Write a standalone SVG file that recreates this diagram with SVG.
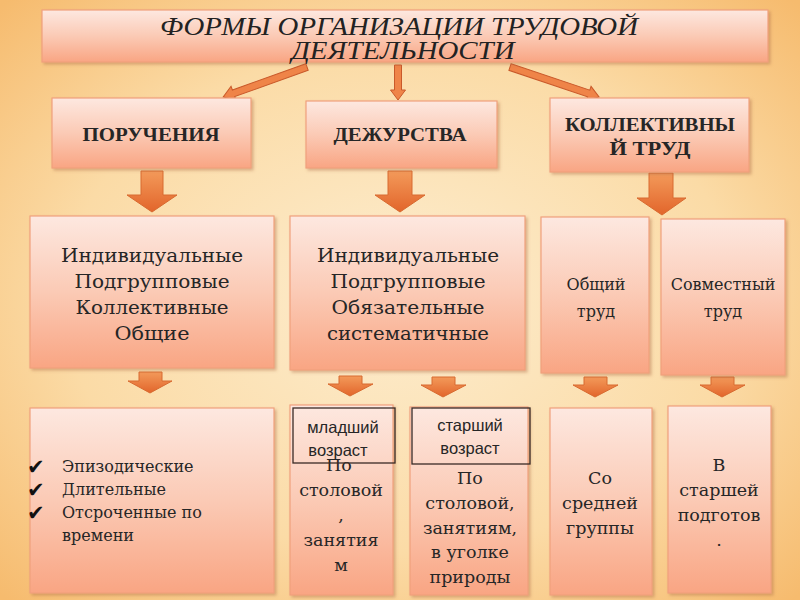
<svg xmlns="http://www.w3.org/2000/svg" width="800" height="600" viewBox="0 0 800 600">
<defs>
<radialGradient id="bg" cx="50%" cy="50%" r="70%">
<stop offset="0" stop-color="#fdedcf"/>
<stop offset="0.6" stop-color="#fbdba6"/>
<stop offset="1" stop-color="#f6bb6e"/>
</radialGradient>
<linearGradient id="box" x1="0" y1="0" x2="0" y2="1">
<stop offset="0" stop-color="#fde8e0"/>
<stop offset="0.5" stop-color="#fbcab5"/>
<stop offset="1" stop-color="#f9a583"/>
</linearGradient>
<linearGradient id="arr" x1="0" y1="0" x2="0" y2="1">
<stop offset="0" stop-color="#f39a5a"/>
<stop offset="1" stop-color="#e2652b"/>
</linearGradient>
<filter id="sh" x="-10%" y="-10%" width="130%" height="130%">
<feDropShadow dx="2" dy="2" stdDeviation="1.5" flood-color="#b0704a" flood-opacity="0.45"/>
</filter>
<style>
.bx{fill:url(#box);stroke:#f0a07c;stroke-width:1.2;filter:url(#sh)}
.lab{fill:none;stroke:#3a2a25;stroke-width:1.3}
.t1{font-family:"Liberation Serif",serif;font-style:italic;font-size:26px;fill:#222;text-anchor:middle}
.t2{font-family:"Liberation Serif",serif;font-weight:bold;font-size:19px;fill:#262626;text-anchor:middle}
.t3{font-family:"DejaVu Serif",serif;font-size:18px;fill:#262626;text-anchor:middle}
.t4{font-family:"DejaVu Serif",serif;font-size:16px;fill:#262626;text-anchor:middle}
.t6{font-family:"DejaVu Serif",serif;font-size:17.5px;fill:#262626;text-anchor:middle}
.t5{font-family:"DejaVu Serif",serif;font-size:16px;fill:#262626}
.ts{font-family:"Liberation Sans",sans-serif;font-size:16.5px;fill:#262626;text-anchor:middle}
.ck{font-family:"DejaVu Sans",sans-serif;font-size:21px;fill:#111}
.ta{fill:#ef8448;stroke:#c9592a;stroke-width:1}
.ba{fill:url(#arr);stroke:#d86a30;stroke-width:1}
</style>
</defs>
<rect width="800" height="600" fill="url(#bg)"/>

<g id="connectors">
<path class="ta" transform="translate(307,67) rotate(160.3)" d="M0,-3.5 L78,-3.5 L78,-7.5 L89,0 L78,7.5 L78,3.5 L0,3.5 Z"/>
<path class="ta" transform="translate(398,65) rotate(90)" d="M0,-3.5 L25,-3.5 L25,-7.5 L35,0 L25,7.5 L25,3.5 L0,3.5 Z"/>
<path class="ta" transform="translate(510,67) rotate(18.6)" d="M0,-3.5 L83,-3.5 L83,-7.5 L94,0 L83,7.5 L83,3.5 L0,3.5 Z"/>
<path class="ba" d="M141,171 L163,171 L163,195 L177,195 L152,212 L127,195 L141,195 Z"/>
<path class="ba" d="M388,171 L412,171 L412,195 L425,195 L400,212 L375,195 L388,195 Z"/>
<path class="ba" d="M649,173 L673,173 L673,198 L686,198 L662,215 L637,198 L649,198 Z"/>
<path class="ba" d="M139,372 L162,372 L162,381 L172,381 L150,393 L128,381 L139,381 Z"/>
<path class="ba" d="M339,376 L362,376 L362,384 L373,384 L350,396 L328,384 L339,384 Z"/>
<path class="ba" d="M432,377 L455,377 L455,385 L466,385 L443,397 L421,385 L432,385 Z"/>
<path class="ba" d="M584,377 L607,377 L607,385 L618,385 L595,397 L573,385 L584,385 Z"/>
<path class="ba" d="M711,377 L734,377 L734,385 L745,385 L722,397 L700,385 L711,385 Z"/>
</g>

<g id="title">
<rect class="bx" x="42" y="10" width="726" height="52"/>
<text class="t1" x="399" y="35" textLength="478" lengthAdjust="spacingAndGlyphs">ФОРМЫ ОРГАНИЗАЦИИ ТРУДОВОЙ</text>
<text class="t1" x="403" y="59" textLength="223" lengthAdjust="spacingAndGlyphs">ДЕЯТЕЛЬНОСТИ</text>
</g>

<g id="poruchenia">
<rect class="bx" x="52" y="98" width="199" height="70"/>
<text class="t2" x="151" y="141" textLength="137" lengthAdjust="spacingAndGlyphs">ПОРУЧЕНИЯ</text>
</g>
<g id="dezhurstva">
<rect class="bx" x="306" y="101" width="191" height="67"/>
<text class="t2" x="400" y="141" textLength="133" lengthAdjust="spacingAndGlyphs">ДЕЖУРСТВА</text>
</g>
<g id="kollektivny">
<rect class="bx" x="550" y="98" width="199" height="74"/>
<text class="t2" x="650" y="131" textLength="170" lengthAdjust="spacingAndGlyphs">КОЛЛЕКТИВНЫ</text>
<text class="t2" x="650" y="155" textLength="81" lengthAdjust="spacingAndGlyphs">Й ТРУД</text>
</g>

<g id="vidy-poruchenii">
<rect class="bx" x="30" y="216" width="244" height="152"/>
<text class="t3" x="152" y="262" textLength="182" lengthAdjust="spacingAndGlyphs">Индивидуальные</text>
<text class="t3" x="152" y="288" textLength="155" lengthAdjust="spacingAndGlyphs">Подгрупповые</text>
<text class="t3" x="152" y="314" textLength="153" lengthAdjust="spacingAndGlyphs">Коллективные</text>
<text class="t3" x="152" y="340" textLength="75" lengthAdjust="spacingAndGlyphs">Общие</text>
</g>
<g id="vidy-dezhurstv">
<rect class="bx" x="290" y="216" width="235" height="154"/>
<text class="t3" x="408" y="262" textLength="182" lengthAdjust="spacingAndGlyphs">Индивидуальные</text>
<text class="t3" x="408" y="288" textLength="155" lengthAdjust="spacingAndGlyphs">Подгрупповые</text>
<text class="t3" x="408" y="314" textLength="153" lengthAdjust="spacingAndGlyphs">Обязательные</text>
<text class="t3" x="408" y="340" textLength="162" lengthAdjust="spacingAndGlyphs">систематичные</text>
</g>
<g id="obshchiy-trud">
<rect class="bx" x="541" y="217" width="108" height="156"/>
<text class="t4" x="596" y="290">Общий</text>
<text class="t4" x="596" y="317">труд</text>
</g>
<g id="sovmestny-trud">
<rect class="bx" x="661" y="219" width="124" height="156"/>
<text class="t4" x="723" y="290">Совместный</text>
<text class="t4" x="723" y="317">труд</text>
</g>

<g id="vidy-po-vremeni">
<rect class="bx" x="30" y="408" width="244" height="185"/>
<text class="ck" x="27" y="474">✔</text>
<text class="ck" x="27" y="497">✔</text>
<text class="ck" x="27" y="520">✔</text>
<text class="t5" x="62" y="472">Эпизодические</text>
<text class="t5" x="62" y="495">Длительные</text>
<text class="t5" x="62" y="518">Отсроченные по</text>
<text class="t5" x="62" y="541">времени</text>
</g>
<g id="mladshiy">
<rect class="bx" x="290" y="405" width="103" height="190"/>
<text class="t6" x="339" y="471">По</text>
<text class="t6" x="341" y="496">столовой</text>
<text class="t6" x="341" y="521">,</text>
<text class="t6" x="341" y="546">занятия</text>
<text class="t6" x="341" y="571">м</text>
<rect class="lab" x="293" y="408" width="102" height="55"/>
<text class="ts" x="343" y="433">младший</text>
<text class="ts" x="338" y="456">возраст</text>
</g>
<g id="starshiy">
<rect class="bx" x="410" y="407" width="118" height="188"/>
<text class="t6" x="470" y="484">По</text>
<text class="t6" x="470" y="509">столовой,</text>
<text class="t6" x="470" y="534">занятиям,</text>
<text class="t6" x="470" y="558">в уголке</text>
<text class="t6" x="470" y="583">природы</text>
<rect class="lab" x="412" y="408" width="118" height="56"/>
<text class="ts" x="470" y="431">старший</text>
<text class="ts" x="470" y="454">возраст</text>
</g>
<g id="so-sredney">
<rect class="bx" x="550" y="408" width="102" height="187"/>
<text class="t6" x="600" y="484">Со</text>
<text class="t6" x="600" y="509">средней</text>
<text class="t6" x="600" y="534">группы</text>
</g>
<g id="v-starshey">
<rect class="bx" x="668" y="406" width="103" height="187"/>
<text class="t6" x="719" y="471">В</text>
<text class="t6" x="719" y="496">старшей</text>
<text class="t6" x="719" y="521">подготов</text>
<text class="t6" x="719" y="546">.</text>
</g>
</svg>
